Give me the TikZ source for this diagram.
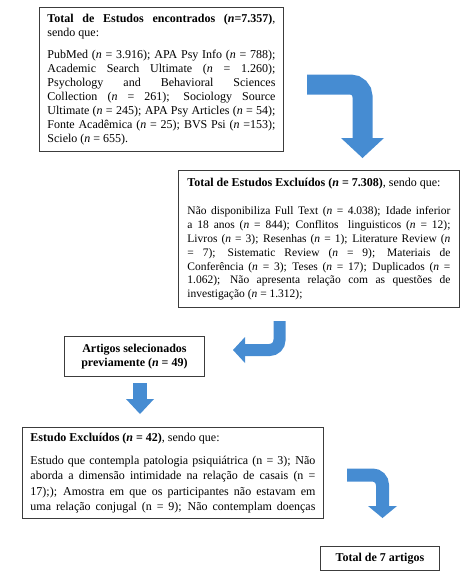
\documentclass[tikz,border=0pt]{standalone}
\usepackage{fontspec}
\setmainfont{Liberation Serif}
\usepackage{tikz}
\usetikzlibrary{
	arrows.meta,
	positioning
}
\definecolor{ArrowBlue}{RGB}{70,140,210}
\definecolor{BoxGray}{RGB}{60,60,60}
\newcommand{\nn}{\textit{n}}
\hyphenpenalty=10000
\tolerance=10000

\begin{document}
\begin{tikzpicture}[x=1pt, y=-1pt,
		box/.style={draw=BoxGray, line width=0.9pt, anchor=north west, inner xsep=8pt, inner ysep=0pt, align=justify},
		cbox/.style={draw=BoxGray, line width=0.9pt, anchor=north west, inner sep=0pt, align=center, font=\fontsize{12}{14.5}\selectfont\bfseries},
		flow/.style={draw=ArrowBlue, line width=#1, rounded corners=12pt}]
			\useasboundingbox (0,0) rectangle (472,576);
			\node[box, text width=228pt, minimum height=144pt, font=\fontsize{12}{14}\selectfont] (found) at (39,7) {{\bfseries Total de Estudos encontrados (\nn=7.357)}, \linebreak sendo que:\par\vskip 8pt
				PubMed (\nn{} = 3.916); APA Psy Info (\nn{} = 788); \linebreak Academic Search Ultimate (\nn{} = 1.260); \linebreak Psychology and Behavioral Sciences \linebreak Collection (\nn{} = 261); Sociology Source \linebreak Ultimate (\nn{} = 245); APA Psy Articles (\nn{} = 54); \linebreak Fonte Acadêmica (\nn{} = 25); BVS Psi (\nn{} =153); \linebreak Scielo (\nn{} = 655).};
			\node[box, text width=263pt, inner xsep=9pt, minimum height=137pt, font=\fontsize{12}{13.8}\selectfont] (excl) at (178,170) {{\bfseries Total de Estudos Excluídos (\nn{} = 7.308)}, sendo que:\par\vskip 15pt
				\fontsize{11.5}{13.8}\selectfont\spaceskip=0.25em plus 0.5em minus 0.17em\relax
				Não disponibiliza Full Text (\nn{} = 4.038); Idade inferior \linebreak a 18 anos (\nn{} = 844); Conflitos\ \ linguisticos (\nn{} = 12); \linebreak Livros (\nn{} = 3); Resenhas (\nn{} = 1); Literature Review (\nn{} \linebreak = 7); Sistematic Review (\nn{} = 9); Materiais de \linebreak Conferência (\nn{} = 3); Teses (\nn{} = 17); Duplicados (\nn{} = \linebreak 1.062); Não apresenta relação com as questões de \linebreak investigação (\nn{} = 1.312);};
			\node[cbox, minimum width=140pt, minimum height=40pt] (sel) at (64,336) {Artigos selecionados\\ previamente (\nn{} = 49)};
			\node[box, text width=285pt, minimum height=91pt, font=\fontsize{12}{15.3}\selectfont] (excl2) at (22,427) {{\bfseries Estudo Excluídos (\nn{} = 42)}, sendo que:\par\vskip 8pt
				Estudo que contempla patologia psiquiátrica (n = 3); Não \linebreak aborda a dimensão intimidade na relação de casais (n = \linebreak 17););  Amostra em que os participantes não estavam em \linebreak uma relação conjugal (n = 9); Não contemplam doenças\parfillskip=0pt\par};
			\node[cbox, minimum width=119pt, minimum height=24pt] (total) at (320,546) {Total de 7 artigos};
			\coordinate (a1s) at (307,84.5);
			\coordinate (a1e) at (362.5,158);
			\coordinate (a2s) at (279.5,321);
			\coordinate (a2e) at (233,350);
			\coordinate (a3s) at (140,383);
			\coordinate (a3e) at (140,414);
			\coordinate (a4s) at (347,475);
			\coordinate (a4e) at (382.5,518);
			\draw[flow=20pt, -{Triangle[width=43pt,length=20pt,line width=0pt]}] (a1s) -| (a1e);
			\draw[flow=12pt, rounded corners=10pt, -{Triangle[width=26pt,length=12pt,line width=0pt]}] (a2s) |- (a2e);
			\draw[flow=14pt, -{Triangle[width=28pt,length=15pt,line width=0pt]}] (a3s) -- (a3e);
			\draw[flow=13pt, rounded corners=10pt, -{Triangle[width=29pt,length=12pt,line width=0pt]}] (a4s) -| (a4e);
		\end{tikzpicture}
\end{document}
